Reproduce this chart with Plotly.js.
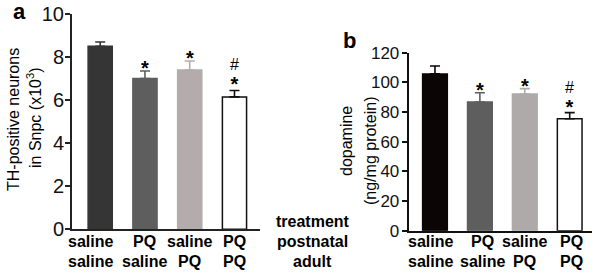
<!DOCTYPE html>
<html>
<head>
<meta charset="utf-8">
<script src="https://cdn.plot.ly/plotly-3.0.1.min.js"></script>
<style>
  html, body { margin: 0; padding: 0; background: #fff; }
  #chart { width: 600px; height: 274px; }
</style>
</head>
<body>
<div id="chart"></div>
<script>
// ---------- data ----------
var categories = ['saline|saline', 'PQ|saline', 'saline|PQ', 'PQ|PQ'];
var postnatal = ['saline', 'PQ', 'saline', 'PQ'];
var adult = ['saline', 'saline', 'PQ', 'PQ'];

var neuronsMean = [8.5, 7.0, 7.4, 6.15];   // TH-positive neurons (x10^3)
var neuronsSEM  = [0.2, 0.35, 0.42, 0.3];

var dopamineMean = [105.7, 86.8, 92.2, 75.5]; // ng/mg protein
var dopamineSEM  = [5.3, 6.2, 3.6, 4.1];

var starsA = ['', '*', '*', '*'];
var hashA  = ['', '', '', '#'];
var starsB = ['', '*', '*', '*'];
var hashB  = ['', '', '', '#'];

var rowLabels = ['treatment', 'postnatal', 'adult'];

// ---------- styles ----------
var FONT = 'Arial, "Liberation Sans", sans-serif';
var fillA = ['#353535', '#5e5e5e', '#b4acac', '#ffffff'];
var fillB = ['#0b0506', '#5e5e5e', '#aeaaaa', '#ffffff'];
var errA  = ['#353535', '#5e5e5e', '#b4acac', '#111111'];
var errB  = ['#0b0506', '#5e5e5e', '#aeaaaa', '#111111'];
var lineA = ['#353535', '#5e5e5e', '#b4acac', '#111111'];
var lineB = ['#0b0506', '#5e5e5e', '#aeaaaa', '#111111'];
var labelShiftA = [-10, 0, 0, 0];
var labelShiftB = [-4, 3, 0, 2];

var W = 600, H = 274;
function py(pix) { return 1 - pix / H; }
function px(pix) { return pix / W; }

var traces = [];
function addBars(means, sems, fills, errs, lines, xa, ya, width) {
  for (var i = 0; i < categories.length; i++) {
    traces.push({
      type: 'bar',
      x: [categories[i]],
      y: [means[i]],
      xaxis: xa, yaxis: ya,
      width: width,
      marker: { color: fills[i], line: { color: lines[i], width: 1.5 } },
      error_y: {
        type: 'data', symmetric: false,
        array: [sems[i]], arrayminus: [0],
        color: errs[i], thickness: 1.6, width: 5
      },
      showlegend: false,
      hoverinfo: 'skip'
    });
  }
}
addBars(neuronsMean, neuronsSEM, fillA, errA, lineA, 'x', 'y', 0.54);
addBars(dopamineMean, dopamineSEM, fillB, errB, lineB, 'x2', 'y2', 0.55);

var annotations = [];
function txt(text, x, y, size, opts) {
  var a = {
    text: text, x: x, y: y, xref: 'paper', yref: 'paper',
    xanchor: 'center', yanchor: 'middle', showarrow: false,
    font: { family: FONT, size: size, color: '#000' }
  };
  for (var k in (opts || {})) a[k] = opts[k];
  annotations.push(a);
}

// x category labels
function catLabels(xref, shifts) {
  for (var i = 0; i < categories.length; i++) {
    txt('<b>' + postnatal[i] + '</b>', categories[i], py(241.7), 16, { xref: xref, xshift: shifts[i] });
    txt('<b>' + adult[i] + '</b>', categories[i], py(261.7), 16, { xref: xref, xshift: shifts[i] });
  }
}
catLabels('x', labelShiftA);
catLabels('x2', labelShiftB);

// significance marks (# stacked above * in one text)
function marks(xref, yref, means, sems, stars, hashes) {
  for (var i = 0; i < categories.length; i++) {
    if (!stars[i] && !hashes[i]) continue;
    if (hashes[i]) {
      txt(hashes[i] + '<br><span style="font-size:20px"><b>' + stars[i] + '</b></span>',
          categories[i], means[i] + sems[i], 16,
          { xref: xref, yref: yref, yanchor: 'bottom', yshift: -7 });
    } else {
      txt('<b>' + stars[i] + '</b>', categories[i], means[i] + sems[i], 20,
          { xref: xref, yref: yref, yshift: 3 });
    }
  }
}
marks('x', 'y', neuronsMean, neuronsSEM, starsA, hashA);
marks('x2', 'y2', dopamineMean, dopamineSEM, starsB, hashB);

// row labels in the middle
txt('<b>' + rowLabels[0] + '</b>', px(313), py(221.7), 16);
txt('<b>' + rowLabels[1] + '</b>', px(313), py(241.7), 16);
txt('<b>' + rowLabels[2] + '</b>', px(313), py(261.7), 16);

// y titles
txt('TH-positive neurons', px(13), py(120), 16, { textangle: -90 });
txt('in Snpc (x10<sup>3</sup>)', px(34), py(118), 16, { textangle: -90 });
txt('dopamine', px(346), py(141), 16, { textangle: -90 });
txt('(ng/mg protein)', px(370), py(151), 16, { textangle: -90 });

// panel letters
txt('<b>a</b>', px(19), py(12), 22);
txt('<b>b</b>', px(349), py(41), 22);

var xBase = {
  type: 'category', showgrid: false, zeroline: false, showticklabels: false,
  ticks: '', showline: true, linewidth: 2, fixedrange: true
};
var yBase = {
  showgrid: false, zeroline: false, ticks: 'outside', ticklen: 5, tickwidth: 2,
  showline: true, linewidth: 2, fixedrange: true
};
function merge(a, b) { var o = {}; for (var k in a) o[k] = a[k]; for (var k2 in b) o[k2] = b[k2]; return o; }

var layout = {
  width: W, height: H,
  margin: { l: 0, r: 0, t: 0, b: 0 },
  paper_bgcolor: '#fff', plot_bgcolor: 'rgba(0,0,0,0)',
  barmode: 'overlay',
  font: { family: FONT, color: '#000' },
  xaxis: merge(xBase, { domain: [px(72), px(260)], range: [-0.63, 3.57], anchor: 'y', linecolor: '#222' }),
  yaxis: merge(yBase, { domain: [py(229.3), py(14)], range: [0, 10], dtick: 2, anchor: 'x',
                        ticklabelstandoff: -3,
                        linecolor: '#222', tickcolor: '#222', tickfont: { family: FONT, size: 20, color: '#111' } }),
  xaxis2: merge(xBase, { domain: [px(408.7), px(591.7)], range: [-0.585, 3.49], anchor: 'y2', linecolor: '#111' }),
  yaxis2: merge(yBase, { domain: [py(230.7), py(52.7)], range: [0, 120], dtick: 20, anchor: 'x2',
                         ticklabelstandoff: -1,
                         linecolor: '#111', tickcolor: '#111', tickfont: { family: FONT, size: 17, color: '#111' } }),
  annotations: annotations
};

Plotly.newPlot('chart', traces, layout, { displayModeBar: false, staticPlot: true });
</script>
</body>
</html>
